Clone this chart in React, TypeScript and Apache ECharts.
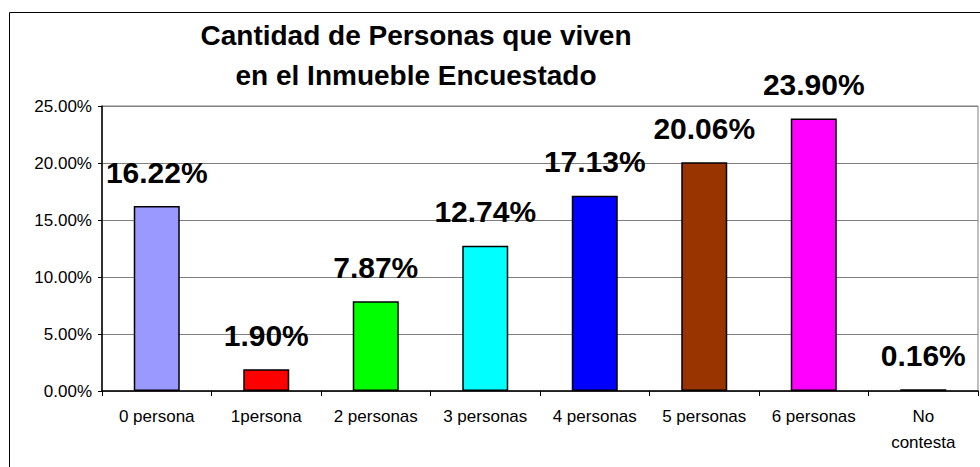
import React, { useEffect, useRef } from "react";
import * as echarts from "echarts";

const categories = ["0 persona", "1persona", "2 personas", "3 personas", "4 personas", "5 personas", "6 personas", "No\ncontesta"];
const values = [16.22, 1.9, 7.87, 12.74, 17.13, 20.06, 23.9, 0.16];
const barColors = ["#9999FF", "#FF0000", "#00FF00", "#00FFFF", "#0000FF", "#993300", "#FF00FF", "#000000"];
const titleLines = ["Cantidad de Personas que viven", "en el Inmueble Encuestado"];

const FONT = "'Liberation Sans', Arial, sans-serif";

export default function App() {
  const ref = useRef<HTMLDivElement>(null);
  useEffect(() => {
    if (!ref.current) return;
    const chart = echarts.init(ref.current, null, { renderer: "svg" });
    chart.setOption({
      animation: false,
      backgroundColor: "#ffffff",
      textStyle: { fontFamily: FONT },
      graphic: [
        {
          type: "rect",
          shape: { x: 9.5, y: 12.5, width: 1000, height: 500 },
          style: { fill: "none", stroke: "#000", lineWidth: 1 },
          z: 100,
        },
        {
          type: "text",
          x: 416,
          y: 35,
          style: {
            text: titleLines[0],
            fontSize: 28,
            fontWeight: "bold",
            fontFamily: FONT,
            fill: "#000",
            align: "center",
            verticalAlign: "middle",
          },
        },
        {
          type: "text",
          x: 416,
          y: 75,
          style: {
            text: titleLines[1],
            fontSize: 28,
            fontWeight: "bold",
            fontFamily: FONT,
            fill: "#000",
            align: "center",
            verticalAlign: "middle",
          },
        },
      ],
      grid: {
        left: 102,
        right: 2,
        top: 106,
        bottom: 76,
        show: true,
        borderColor: "#808080",
        borderWidth: 1,
        backgroundColor: "#fff",
      },
      xAxis: {
        type: "category",
        data: categories,
        boundaryGap: true,
        axisLine: { lineStyle: { color: "#000", width: 1.5 } },
        axisTick: { show: true, length: 5, alignWithLabel: false, lineStyle: { color: "#000" } },
        axisLabel: {
          interval: 0,
          margin: 12,
          fontSize: 17,
          color: "#000",
          fontFamily: FONT,
          lineHeight: 26,
        },
      },
      yAxis: {
        type: "value",
        min: 0,
        max: 25,
        interval: 5,
        axisLine: { show: true, lineStyle: { color: "#000", width: 1.5 } },
        axisTick: { show: true, length: 4, inside: false, lineStyle: { color: "#000" } },
        splitLine: { show: true, lineStyle: { color: "#808080", width: 1 } },
        axisLabel: {
          formatter: (v: number) => v.toFixed(2) + "%",
          fontSize: 17,
          color: "#000",
          margin: 10,
          fontFamily: FONT,
        },
      },
      series: [
        {
          type: "bar",
          barWidth: 46,
          data: values.map((v, i) => ({
            value: v,
            itemStyle: { color: barColors[i], borderColor: "#000", borderWidth: 1.5 },
          })),
          label: {
            show: true,
            position: "top",
            distance: 19,
            formatter: (p: any) => p.value.toFixed(2) + "%",
            fontSize: 30,
            fontWeight: "bold",
            color: "#000",
            fontFamily: FONT,
          },
        },
      ],
    });
    return () => chart.dispose();
  }, []);
  return (
    <div
      ref={ref}
      style={{ position: "absolute", left: 0, top: 0, width: 980, height: 467 }}
    />
  );
}
